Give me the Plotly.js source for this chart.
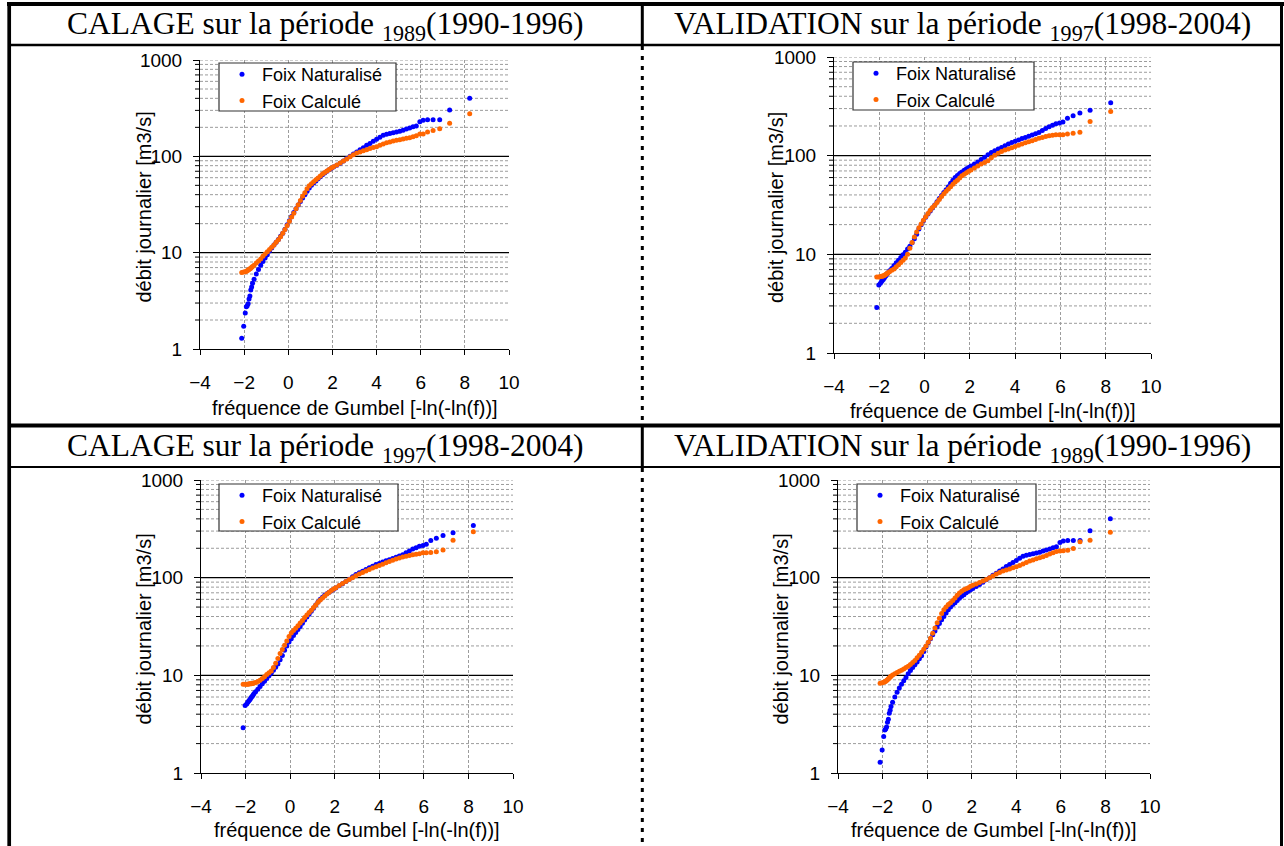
<!DOCTYPE html>
<html>
<head>
<meta charset="utf-8">
<script src="https://cdn.plot.ly/plotly-3.0.1.min.js"></script>
<style>
  html, body { margin: 0; padding: 0; background: #fff; }
  #chart { width: 1284px; height: 846px; }
</style>
</head>
<body>
<div id="chart"></div>
<script>
// Gumbel reduced variate -ln(-ln(f)) of the plotted daily flows (shared by all series)
const gumbelVariate = [
  -2.11, -2.02, -1.95, -1.90, -1.86, -1.82, -1.78, -1.74, -1.70, -1.66, -1.62,
  -1.55, -1.45, -1.35, -1.25, -1.15, -1.05, -0.95, -0.85, -0.75, -0.65,
  -0.55, -0.45, -0.35, -0.25, -0.15, -0.05, 0.05, 0.15, 0.25, 0.35,
  0.45, 0.55, 0.65, 0.75, 0.85, 0.95, 1.05, 1.15, 1.25, 1.35,
  1.45, 1.55, 1.65, 1.75, 1.85, 1.95, 2.05,
  2.2, 2.35, 2.5, 2.65, 2.8, 2.95, 3.1, 3.25, 3.4, 3.55,
  3.7, 3.85, 4.0, 4.15, 4.3, 4.45, 4.6, 4.75, 4.9, 5.05,
  5.2, 5.35, 5.5, 5.65, 5.8,
  5.96, 6.11, 6.31, 6.56, 6.86, 7.31, 8.22
];

// Foix naturalised daily flow [m3/s], 1990-1996
const naturalise1990 = [
  1.29, 1.72, 2.36, 2.75, 2.82, 2.95, 3.3, 3.55, 4.1, 4.4, 4.8,
  5.3, 6.0, 6.7, 7.4, 8.1, 8.8, 9.5, 10.4, 11.2, 12.0,
  12.8, 13.7, 14.8, 15.9, 17.5, 19.5, 21.5, 23.7, 26.1, 28.5,
  31.2, 34, 37, 40, 43.5, 47, 50, 53, 55.5, 58.5,
  61.5, 64.5, 67, 70, 72.5, 75, 77.5,
  81, 85, 89.7, 95, 100, 106, 111, 117, 123, 130,
  136, 143, 150, 158, 166, 170, 173, 176, 179, 182,
  187, 192, 197, 203, 207,
  229, 237, 240, 240, 240, 303, 400
];

// Foix computed flow, calibration 1990-1996
const calculeCalage1990 = [
  6.24, 6.3, 6.35, 6.4, 6.5, 6.6, 6.7, 6.8, 6.9, 7.05, 7.2,
  7.4, 7.8, 8.2, 8.6, 9.2, 9.7, 10.2, 10.8, 11.4, 12.0,
  12.8, 13.6, 14.6, 15.9, 17.4, 19.2, 21.2, 23.5, 25.7, 28.5,
  31.5, 34.8, 38.5, 42, 46, 49.5, 52, 54.5, 57, 59.5,
  62.5, 65.5, 68, 70.5, 73, 75.5, 78,
  81.5, 85.5, 89.7, 94, 99, 104, 108, 111, 114, 117,
  120.5, 123.5, 126, 130, 134, 138, 141, 144, 146.5, 149,
  151.5, 154, 156, 160, 164,
  171, 171, 179, 185, 193, 221, 276
];

// Foix naturalised daily flow [m3/s], 1998-2004
const naturalise1998 = [
  2.9, 4.9, 5.1, 5.3, 5.45, 5.6, 5.75, 5.95, 6.1, 6.3, 6.5,
  6.8, 7.2, 7.7, 8.2, 8.7, 9.3, 9.9, 10.5, 11.3, 12.1,
  13.1, 14.4, 16.0, 18.1, 20.0, 21.9, 23.7, 25.6, 27.5, 29.5,
  31.7, 34.2, 36.8, 39.5, 42.3, 45.2, 48.5, 52.5, 56.5, 60,
  63, 66, 68.5, 71, 73.5, 76, 78.5,
  82.5, 86.5, 91.5, 96.5, 102, 107.5, 112, 116.5, 121, 126,
  131, 136, 140, 144.5, 149, 153, 157, 162, 167, 172,
  180, 188, 196, 203, 210,
  214, 220, 240, 254, 271, 288, 343
];

// Foix computed flow, validation 1998-2004
const calculeValidation1998 = [
  5.9, 5.9, 5.95, 6.0, 6.0, 6.05, 6.1, 6.2, 6.3, 6.4, 6.5,
  6.65, 6.9, 7.1, 7.5, 7.85, 8.25, 8.7, 9.2, 10.0, 11.5,
  13.2, 15.0, 16.8, 18.6, 20.3, 22.2, 24, 26, 28, 29.8,
  31.5, 33.5, 36, 38.5, 41, 43.5, 46, 48.5, 51.3, 54,
  56.5, 59.5, 62.5, 65, 67, 69.5, 71.5,
  75, 78.5, 82.5, 85.5, 89, 95, 101, 106, 110, 114,
  117, 120, 124, 127.5, 131, 135, 138.5, 142, 146, 150,
  153, 156, 159, 161, 163,
  163, 163, 166, 169, 173, 222, 281
];

// Foix computed flow, calibration 1998-2004
const calculeCalage1998 = [
  8.1, 8.1, 8.1, 8.12, 8.15, 8.18, 8.2, 8.22, 8.25, 8.3, 8.35,
  8.45, 8.65, 8.9, 9.3, 9.7, 10.2, 10.6, 11.1, 12.0, 13.3,
  14.9, 16.7, 18.4, 20.3, 22.5, 25, 27.2, 28.8, 30.4, 32.2,
  34.3, 36.5, 39, 41.5, 44, 46.5, 49.5, 52.5, 56, 59,
  62, 65, 68, 71, 74, 76.5, 79,
  83, 87, 91.5, 96, 100, 104.5, 109, 113, 117, 121.5,
  125.5, 129.5, 133, 137.5, 142, 146.5, 151, 155, 159, 163,
  166, 169, 172, 174, 176,
  180, 180, 181, 184, 192, 242, 295
];

// Foix computed flow, validation 1990-1996
const calculeValidation1990 = [
  8.3, 8.4, 8.5, 8.6, 8.7, 8.85, 9.0, 9.2, 9.4, 9.6, 9.8,
  10.1, 10.4, 10.7, 11.0, 11.3, 11.6, 12.0, 12.4, 12.9, 13.5,
  14.2, 15.1, 16.1, 17.2, 18.5, 20.0, 21.8, 24, 27, 30.5,
  34.5, 38.5, 43, 47, 50, 53, 55.5, 58.5, 62, 66,
  69.5, 72.5, 75, 77, 79, 81.5, 83.5,
  86, 89, 92.5, 96, 100, 104, 109, 113, 117, 120,
  123, 126, 129, 133, 138, 143, 148, 152, 156, 160,
  164, 169, 175, 180, 185,
  188, 189, 191, 199, 233, 242, 291
];

const seriesNames = ['Foix Naturalisé', 'Foix Calculé'];
const panelTitles = [
  'CALAGE sur la période <sub>1989</sub>(1990-1996)',
  'VALIDATION sur la période <sub>1997</sub>(1998-2004)',
  'CALAGE sur la période <sub>1997</sub>(1998-2004)',
  'VALIDATION sur la période <sub>1989</sub>(1990-1996)'
];
const xAxisTitle = 'fréquence de Gumbel [-ln(-ln(f))]';
const yAxisTitle = 'débit journalier [m3/s]';
const xTickVals = [-4, -2, 0, 2, 4, 6, 8, 10];
const yTickVals = [1, 10, 100, 1000];
const yTickText = ['1', '10', '100', '1000'];
const yMinorDigits = [2, 3, 4, 5, 6, 7, 8, 9];

// ---- page geometry (pixels of the 1284 x 846 figure) ----
const W = 1284, H = 846;
const px = v => v / W;
const py = v => 1 - v / H;

const SANS = 'Liberation Sans, Arial, sans-serif';
const SERIF = 'Liberation Serif, Times New Roman, serif';
const BLUE = '#0000ff';
const ORANGE = '#ff6600';
const GRID = '#9c9c9c';
const GRID_DASH = '3px,2px';

// one entry per panel: plot box, legend frame, axis-title anchors, series
const panels = [
  { box: [200, 509, 60, 349], legendBox: [219, 396, 63, 111], ytx: 143, xty: 408,
    nat: naturalise1990, calc: calculeCalage1990, titleX: 325, titleY: 26 },
  { box: [834, 1151, 57, 353], legendBox: [853, 1034, 62, 110], ytx: 776, xty: 411,
    nat: naturalise1998, calc: calculeValidation1998, titleX: 962, titleY: 26 },
  { box: [201, 513, 480, 773], legendBox: [219, 398, 484, 531], ytx: 143, xty: 830,
    nat: naturalise1998, calc: calculeCalage1998, titleX: 325, titleY: 448 },
  { box: [838, 1150, 480, 773], legendBox: [857, 1036, 484, 531], ytx: 780, xty: 830,
    nat: naturalise1990, calc: calculeValidation1990, titleX: 962, titleY: 448 }
];

const traces = [];
const layout = {
  width: W, height: H,
  margin: { l: 0, r: 0, t: 0, b: 0, pad: 0 },
  paper_bgcolor: '#ffffff',
  plot_bgcolor: 'rgba(0,0,0,0)',
  font: { family: SANS, color: '#000' },
  showlegend: true,
  shapes: [],
  annotations: []
};

panels.forEach((p, i) => {
  const n = i === 0 ? '' : String(i + 1);
  const xa = 'x' + n, ya = 'y' + n;
  const legendId = 'legend' + n;
  const [x0, x1, y0, y1] = p.box;
  const plotW = x1 - x0;

  traces.push({
    type: 'scatter', mode: 'markers', name: seriesNames[0],
    x: gumbelVariate, y: p.nat, xaxis: xa, yaxis: ya, legend: legendId,
    marker: { color: BLUE, size: 5 }, hoverinfo: 'skip'
  });
  traces.push({
    type: 'scatter', mode: 'markers', name: seriesNames[1],
    x: gumbelVariate, y: p.calc, xaxis: xa, yaxis: ya, legend: legendId,
    marker: { color: ORANGE, size: 5 }, hoverinfo: 'skip'
  });

  layout['xaxis' + n] = {
    domain: [px(x0), px(x1)], anchor: ya,
    range: [-4, 10], tickmode: 'array', tickvals: xTickVals,
    showgrid: true, gridcolor: GRID, griddash: GRID_DASH, gridwidth: 1,
    zeroline: false, showline: true, linecolor: '#000', linewidth: 1,
    ticks: 'outside', ticklen: 5, tickcolor: '#000', tickwidth: 1,
    ticklabelstandoff: 11,
    tickfont: { family: SANS, size: 19, color: '#000' },
    fixedrange: true
  };
  layout['yaxis' + n] = {
    domain: [py(y1), py(y0)], anchor: xa,
    type: 'log', range: [0, 3],
    tickmode: 'array', tickvals: yTickVals, ticktext: yTickText,
    showgrid: false, zeroline: false,
    showline: true, linecolor: '#000', linewidth: 1,
    ticks: 'outside', ticklen: 6, tickcolor: '#000', tickwidth: 1,
    ticklabelstandoff: 7,
    tickfont: { family: SANS, size: 19, color: '#000' },
    fixedrange: true
  };

  // decade lines: solid at 10 and 100, dashed at the top (1000)
  yTickVals.slice(1).forEach(v => {
    const top = v === yTickVals[yTickVals.length - 1];
    layout.shapes.push({
      type: 'line', xref: xa + ' domain', yref: ya, layer: 'below',
      x0: 0, x1: 1, y0: v, y1: v,
      line: top ? { color: GRID, width: 1, dash: GRID_DASH } : { color: '#000', width: 1.2 }
    });
  });
  // minor log grid (2..9 within each decade) with short outside ticks
  yTickVals.slice(0, -1).forEach(decade => {
    yMinorDigits.forEach(d => {
      const v = d * decade;
      layout.shapes.push({
        type: 'line', xref: xa + ' domain', yref: ya, layer: 'below',
        x0: 0, x1: 1, y0: v, y1: v,
        line: { color: GRID, width: 1, dash: GRID_DASH }
      });
      layout.shapes.push({
        type: 'line', xref: xa + ' domain', yref: ya, layer: 'above',
        x0: -5 / plotW, x1: 0, y0: v, y1: v,
        line: { color: '#000', width: 1 }
      });
    });
  });

  // legend frame, with the legend entries laid inside it
  const [lx0, lx1, ly0, ly1] = p.legendBox;
  layout.shapes.push({
    type: 'rect', xref: 'paper', yref: 'paper', layer: 'above',
    x0: px(lx0), x1: px(lx1), y0: py(ly1), y1: py(ly0),
    fillcolor: '#ffffff', line: { color: '#333333', width: 1.2 }
  });
  layout[legendId] = {
    x: px(lx0 + 3), y: py(ly0 - 7), xanchor: 'left', yanchor: 'top',
    bgcolor: 'rgba(0,0,0,0)', borderwidth: 0,
    font: { family: SANS, size: 18, color: '#000' },
    tracegroupgap: 0
  };

  layout.annotations.push({
    text: panelTitles[i], xref: 'paper', yref: 'paper',
    x: px(p.titleX), y: py(p.titleY), xanchor: 'center', yanchor: 'middle',
    showarrow: false, font: { family: SERIF, size: 31.5, color: '#000' }
  });
  layout.annotations.push({
    text: xAxisTitle, xref: 'paper', yref: 'paper',
    x: px((x0 + x1) / 2), y: py(p.xty), xanchor: 'center', yanchor: 'middle',
    showarrow: false, font: { family: SANS, size: 20, color: '#000' }
  });
  layout.annotations.push({
    text: yAxisTitle, xref: 'paper', yref: 'paper', textangle: -90,
    x: px(p.ytx), y: py((y0 + y1) / 2 + 3), xanchor: 'center', yanchor: 'middle',
    showarrow: false, font: { family: SANS, size: 20, color: '#000' }
  });
});

// table frame: outer border, row separators, centre divider
function hLine(y, x0, x1, w) {
  return { type: 'line', xref: 'paper', yref: 'paper', layer: 'above',
    x0: px(x0), x1: px(x1), y0: py(y), y1: py(y), line: { color: '#000', width: w } };
}
function vLine(x, y0, y1, w, dash) {
  return { type: 'line', xref: 'paper', yref: 'paper', layer: 'above',
    x0: px(x), x1: px(x), y0: py(y0), y1: py(y1),
    line: { color: '#000', width: w, dash: dash || 'solid' } };
}
layout.shapes.push(
  hLine(4, 7, 1284, 4),
  vLine(9.2, 2, 846, 3.7),
  vLine(1281.5, 2, 846, 3),
  hLine(45, 9, 1282, 2.5),
  hLine(425.5, 9, 1282, 4),
  hLine(467, 9, 1282, 2),
  vLine(642.3, 5, 45, 3),
  vLine(642.3, 425, 467, 3),
  vLine(642.3, 46, 424, 3, '4px,6px'),
  vLine(642.3, 468, 846, 3, '4px,6px')
);

Plotly.newPlot('chart', traces, layout, { displayModeBar: false, staticPlot: true });
</script>
</body>
</html>
